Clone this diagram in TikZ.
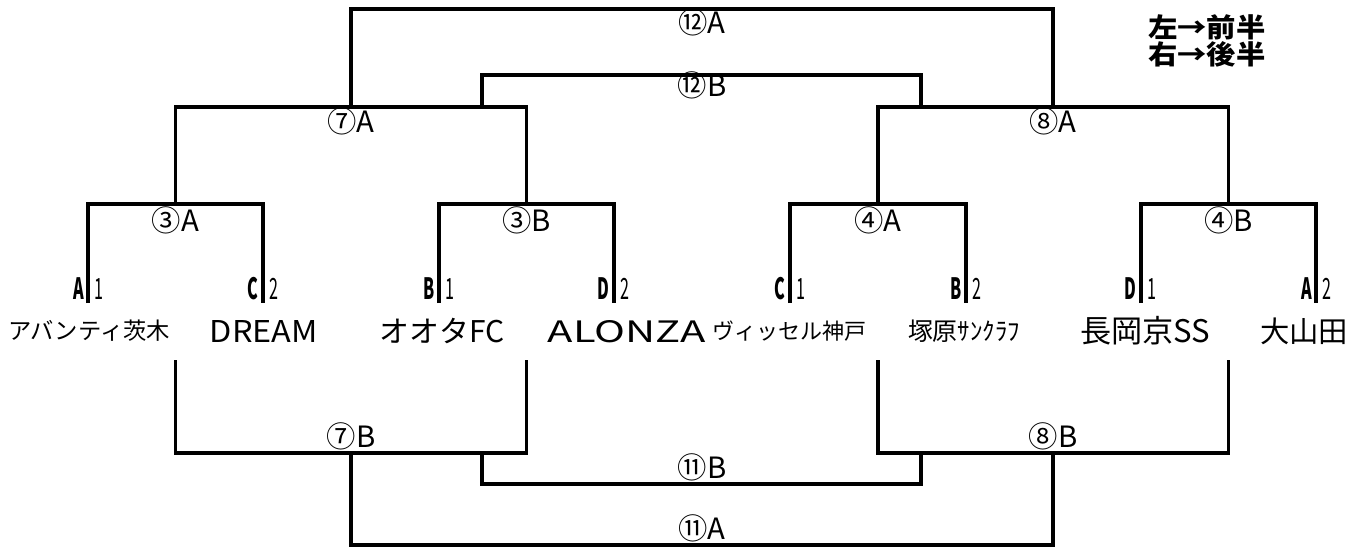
\documentclass[tikz,border=0pt]{standalone}
\usepackage{fontspec}
\setmainfont{Noto Sans CJK JP}
\newdimen\pxu \pxu=0.75pt
\tikzset{
  br/.style={line width=2.4pt, line join=miter},
  mlabel/.style={anchor=base, inner sep=0pt, font=\fontsize{22pt}{22pt}\selectfont},
  tname/.style={anchor=center, inner sep=0pt},
  tlat/.style={anchor=base, inner sep=0pt},
  seedl/.style={anchor=base east, inner sep=0pt, font=\fontsize{22pt}{22pt}\selectfont\bfseries},
  seedd/.style={anchor=base west, inner sep=0pt, font=\fontsize{22pt}{22pt}\selectfont},
  legend/.style={anchor=west, inner sep=0pt, font=\fontsize{20pt}{20pt}\selectfont\bfseries}
}
\newcommand\narrow[1]{\scalebox{0.55}[1]{#1}}
\newcommand\wide[1]{\scalebox{1.1}[1]{#1}}
\newcommand\fitw[2]{\resizebox{#1\pxu}{!}{#2}}
\newcommand\fitwh[3]{\resizebox{#1\pxu}{#2\pxu}{#3}}
\begin{document}
\begin{tikzpicture}[x=0.75pt,y=-0.75pt]
\useasboundingbox (0,0) rectangle (1367,547);
% team line tops
\coordinate (u1) at (88,303);
\coordinate (u2) at (263,303);
\coordinate (u3) at (439,303);
\coordinate (u4) at (614,303);
\coordinate (u5) at (790,303);
\coordinate (u6) at (966,303);
\coordinate (u7) at (1141,303);
\coordinate (u8) at (1316,303);
% upper bracket points
\coordinate (p3A) at (175.5,204);
\coordinate (p3B) at (526.5,204);
\coordinate (p4A) at (878,204);
\coordinate (p4B) at (1228.5,204);
\coordinate (p7A) at (351,107);
\coordinate (p8A) at (1053,107);
\coordinate (p12A) at (702,9);
\coordinate (c12Bl) at (482,107);
\coordinate (c12Br) at (921,107);
\coordinate (p12B) at (702,75);
% lower bracket points
\coordinate (b7Bl) at (175.5,360);
\coordinate (b7Br) at (526.5,360);
\coordinate (b8Bl) at (878,360);
\coordinate (b8Br) at (1228.5,360);
\coordinate (p7B) at (351,453);
\coordinate (p8B) at (1053,453);
\coordinate (p11A) at (702,545);
\coordinate (c11Bl) at (482,453);
\coordinate (c11Br) at (921,453);
\coordinate (p11B) at (702,484);

% upper brackets
\draw[br] (u1) |- (p3A) -| (u2);
\draw[br] (u3) |- (p3B) -| (u4);
\draw[br] (u5) |- (p4A) -| (u6);
\draw[br] (u7) |- (p4B) -| (u8);
\draw[br] (p3A) |- (p7A) -| (p3B);
\draw[br] (p4A) |- (p8A) -| (p4B);
\draw[br] (p7A) |- (p12A) -| (p8A);
\draw[br] (c12Bl) |- (p12B) -| (c12Br);
% lower brackets
\draw[br] (b7Bl) |- (p7B) -| (b7Br);
\draw[br] (b8Bl) |- (p8B) -| (b8Br);
\draw[br] (p7B) |- (p11A) -| (p8B);
\draw[br] (c11Bl) |- (p11B) -| (c11Br);

% match labels
\node[mlabel] (l12A) at (702,33) {⑫A};
\node[mlabel] (l12B) at (702,96) {⑫B};
\node[mlabel] (l7A) at (351,132) {⑦A};
\node[mlabel] (l8A) at (1053,132) {⑧A};
\node[mlabel] (l3A) at (175.5,231) {③A};
\node[mlabel] (l3B) at (526.5,231) {③B};
\node[mlabel] (l4A) at (878,231) {④A};
\node[mlabel] (l4B) at (1228.5,231) {④B};
\node[mlabel] (l7B) at (351,447) {⑦B};
\node[mlabel] (l8B) at (1053,447) {⑧B};
\node[mlabel] (l11B) at (702,478) {⑪B};
\node[mlabel] (l11A) at (702,539) {⑪A};

% seed letters and ranks
\foreach \n/\x/\g/\r in {1/88/A/1,2/263/C/2,3/439/B/1,4/614/D/2,5/790/C/1,6/966/B/2,7/1141/D/1,8/1316/A/2}{
  \node[seedl] (g\n) at (\x-4,299) {\narrow{\g}};
  \node[seedd] (r\n) at (\x+6,299) {\narrow{\r}};
}

% team names
\node[tname] (t1) at (89,331) {\fitw{162}{アバンティ茨木}};
\node[tlat] (t2) at (264,342) {\fitwh{108}{22}{DREAM}};
\node[tname] (t3) at (442,331) {\fitw{125}{オオタFC}};
\node[tlat] (t4) at (627,342) {\fitwh{158}{22}{ALONZA}};
\node[tname] (t5) at (789,331) {\fitw{154}{ヴィッセル神戸}};
\node[tname] (t6) at (964,331) {\fitw{112}{塚原ｻﾝｸﾗﾌ}};
\node[tname] (t7) at (1145,331) {\fitw{130}{長岡京SS}};
\node[tname] (t8) at (1304,331) {\fitw{88}{大山田}};

% legend
\node[legend] (lg1) at (1148,27) {\wide{左→前半}};
\node[legend] (lg2) at (1148,54) {\wide{右→後半}};
\end{tikzpicture}
\end{document}
